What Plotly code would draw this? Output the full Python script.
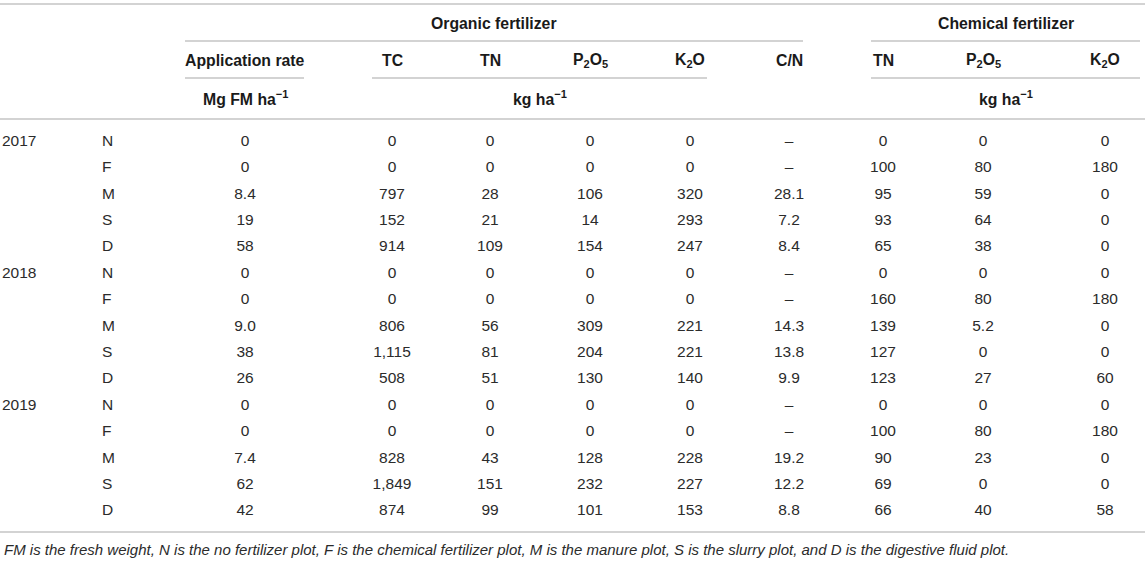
import plotly.graph_objects as go

# ---- data ----
years = ["2017", "2018", "2019"]
treatments = ["N", "F", "M", "S", "D"]
app_rate = ["0", "0", "8.4", "19", "58", "0", "0", "9.0", "38", "26", "0", "0", "7.4", "62", "42"]
org_tc = [0, 0, 797, 152, 914, 0, 0, 806, 1115, 508, 0, 0, 828, 1849, 874]
org_tn = [0, 0, 28, 21, 109, 0, 0, 56, 81, 51, 0, 0, 43, 151, 99]
org_p2o5 = [0, 0, 106, 14, 154, 0, 0, 309, 204, 130, 0, 0, 128, 232, 101]
org_k2o = [0, 0, 320, 293, 247, 0, 0, 221, 221, 140, 0, 0, 228, 227, 153]
org_cn = [None, None, 28.1, 7.2, 8.4, None, None, 14.3, 13.8, 9.9, None, None, 19.2, 12.2, 8.8]
chem_tn = [0, 100, 95, 93, 65, 0, 160, 139, 127, 123, 0, 100, 90, 69, 66]
chem_p2o5 = ["0", "80", "59", "64", "38", "0", "80", "5.2", "0", "27", "0", "80", "23", "0", "40"]
chem_k2o = [0, 180, 0, 0, 0, 0, 180, 0, 0, 60, 0, 180, 0, 0, 58]

group_labels = ["Organic fertilizer", "Chemical fertilizer"]
col_labels = ["Application rate", "TC", "TN", "P<sub>2</sub>O<sub>5</sub>", "K<sub>2</sub>O", "C/N",
              "TN", "P<sub>2</sub>O<sub>5</sub>", "K<sub>2</sub>O"]
unit_labels = ["Mg FM ha<sup>\u22121</sup>", "kg ha<sup>\u22121</sup>", "kg ha<sup>\u22121</sup>"]
footnote = ("FM is the fresh weight, N is the no fertilizer plot, F is the chemical fertilizer plot, "
            "M is the manure plot, S is the slurry plot, and D is the digestive fluid plot.")

# ---- layout constants ----
W, H = 1145, 561
FONT = "Liberation Sans"
BODY = dict(family=FONT, size=15.5, color="#2b2b2b")
HEAD = dict(family=FONT, size=15.8, color="#1a1a1a")
LINE = dict(color="#c4c4c4", width=1.6)

row_y0, row_dy = 142, 26.4
n_rows = len(years) * len(treatments)
row_y = [row_y0 + i * row_dy for i in range(n_rows)]

col_x = [245, 392, 490, 590, 690, 789, 883, 983, 1105]


def fmt(v):
    if v is None:
        return "\u2013"
    if isinstance(v, str):
        return v
    if isinstance(v, float):
        return f"{v:.1f}"
    return f"{v:,}"


columns = [app_rate, org_tc, org_tn, org_p2o5, org_k2o, org_cn, chem_tn, chem_p2o5, chem_k2o]

fig = go.Figure()

# year column
year_y = [row_y[i * len(treatments)] for i in range(len(years))]
fig.add_trace(go.Scatter(x=[2] * len(years), y=year_y, mode="text", text=years, cliponaxis=False,
                         textposition="middle right", textfont=BODY, hoverinfo="skip"))
# treatment column
fig.add_trace(go.Scatter(x=[102] * n_rows, y=row_y, mode="text", text=treatments * len(years),
                         cliponaxis=False, textposition="middle right", textfont=BODY, hoverinfo="skip"))
# value columns
for cx, vals in zip(col_x, columns):
    fig.add_trace(go.Scatter(x=[cx] * n_rows, y=row_y, mode="text", text=[fmt(v) for v in vals],
                             cliponaxis=False, textposition="middle center", textfont=BODY,
                             hoverinfo="skip"))

ann = []
# group headers
ann.append(dict(x=(185 + 803) / 2, y=23, text="<b>" + group_labels[0] + "</b>"))
ann.append(dict(x=(871 + 1140) / 2, y=23, text="<b>" + group_labels[1] + "</b>"))
# column headers
for cx, lab in zip(col_x, col_labels):
    ann.append(dict(x=cx, y=60, text="<b>" + lab + "</b>"))
# units
ann.append(dict(x=245, y=98, text="<b>" + unit_labels[0] + "</b>"))
ann.append(dict(x=(372 + 707) / 2, y=98, text="<b>" + unit_labels[1] + "</b>"))
ann.append(dict(x=(871 + 1140) / 2, y=98, text="<b>" + unit_labels[2] + "</b>"))
for a in ann:
    a.update(xref="x", yref="y", showarrow=False, font=HEAD, xanchor="center", yanchor="middle")
ann.append(dict(x=2, y=549, xref="x", yref="y", showarrow=False, text="<i>" + footnote + "</i>",
                font=dict(family=FONT, size=15, color="#2b2b2b"), xanchor="left", yanchor="middle"))

shapes = []
for (x0, x1, y) in [(0, W, 4), (185, 803, 41), (871, 1140, 41), (185, 304, 78), (372, 707, 78),
                    (871, 1140, 78), (0, W, 119), (0, W, 532)]:
    shapes.append(dict(type="line", xref="x", yref="y", x0=x0, x1=x1, y0=y, y1=y, line=LINE))

fig.update_layout(
    width=W, height=H, margin=dict(l=0, r=0, t=0, b=0),
    paper_bgcolor="white", plot_bgcolor="white", showlegend=False,
    xaxis=dict(range=[0, W], visible=False, fixedrange=True),
    yaxis=dict(range=[H, 0], visible=False, fixedrange=True),
    annotations=ann, shapes=shapes,
)

fig.write_html("out.html", config={"displayModeBar": False},
               post_script="document.body.style.margin='0';document.body.style.padding='0';")
